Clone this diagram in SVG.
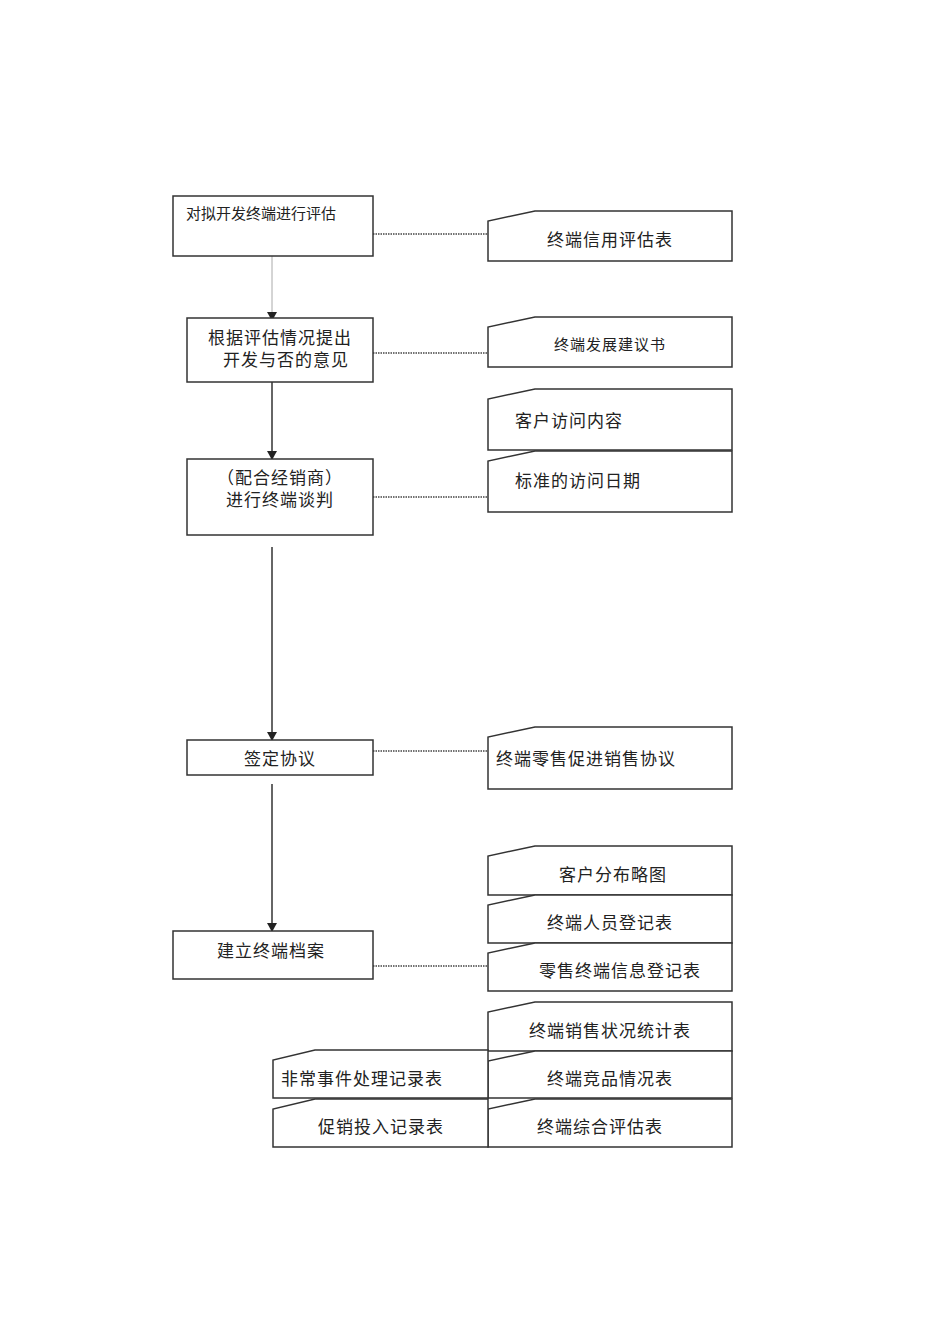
<svg xmlns="http://www.w3.org/2000/svg" width="950" height="1344" viewBox="0 0 950 1344">
<defs>
<style>
.b{fill:#fff;stroke:#333;stroke-width:1.5}
.t{font-family:"Liberation Sans","Noto Sans CJK SC",sans-serif;font-size:17px;fill:#222;letter-spacing:1px}
.d{stroke:#444;stroke-width:1.3;stroke-dasharray:1.5 1;fill:none}
.a{stroke:#333;stroke-width:1.5;fill:none;marker-end:url(#ar)}
</style>
<marker id="ar" markerWidth="10" markerHeight="10" refX="8" refY="5" orient="auto" markerUnits="userSpaceOnUse"><path d="M0,0 L9,5 L0,10 Z" fill="#222"/></marker>
</defs>
<rect width="950" height="1344" fill="#fff"/>
<g id="connectors">
<line x1="272" y1="256" x2="272" y2="320" class="a" style="stroke:#aaa;stroke-width:1"/>
<line x1="272" y1="382" x2="272" y2="459" class="a"/>
<line x1="272" y1="547" x2="272" y2="740" class="a"/>
<line x1="272" y1="784" x2="272" y2="931" class="a"/>
<line x1="373" y1="234" x2="502" y2="234" class="d"/>
<line x1="373" y1="353" x2="515" y2="353" class="d"/>
<line x1="373" y1="497" x2="502" y2="497" class="d"/>
<line x1="373" y1="751" x2="505" y2="751" class="d"/>
<line x1="373" y1="966" x2="488" y2="966" class="d"/>
</g>
<g id="n1"><rect x="173" y="196" width="200" height="60" class="b"/><text x="186" y="219" class="t" style="font-size:15px;letter-spacing:0">对拟开发终端进行评估</text></g>
<g id="n2"><rect x="187" y="318" width="186" height="64" class="b"/><text x="280" y="344" class="t" text-anchor="middle">根据评估情况提出</text><text x="286" y="366" class="t" text-anchor="middle">开发与否的意见</text></g>
<g id="n3"><rect x="187" y="459" width="186" height="76" class="b"/><text x="280" y="484" class="t" text-anchor="middle">（配合经销商）</text><text x="280" y="506" class="t" text-anchor="middle">进行终端谈判</text></g>
<g id="n4"><rect x="187" y="740" width="186" height="35" class="b"/><text x="280" y="765" class="t" text-anchor="middle">签定协议</text></g>
<g id="n5"><rect x="173" y="931" width="200" height="48" class="b"/><text x="217" y="957" class="t">建立终端档案</text></g>
<g id="c1"><path d="M488,261 L488,221 L535,211 L732,211 L732,261 Z" class="b"/><text x="610" y="246" class="t" text-anchor="middle">终端信用评估表</text></g>
<g id="c2"><path d="M488,367 L488,327 L535,317 L732,317 L732,367 Z" class="b"/><text x="610" y="350" class="t" text-anchor="middle" style="font-size:15px">终端发展建议书</text></g>
<g id="c3"><path d="M488,450 L488,399 L535,389 L732,389 L732,450 Z" class="b"/><text x="515" y="427" class="t">客户访问内容</text></g>
<g id="c4"><path d="M488,512 L488,461 L535,451 L732,451 L732,512 Z" class="b"/><text x="515" y="487" class="t">标准的访问日期</text></g>
<g id="c5"><path d="M488,789 L488,737 L535,727 L732,727 L732,789 Z" class="b"/><text x="496" y="765" class="t">终端零售促进销售协议</text></g>
<g id="c6"><path d="M488,895 L488,856 L535,846 L732,846 L732,895 Z" class="b"/><text x="613" y="881" class="t" text-anchor="middle">客户分布略图</text></g>
<g id="c7"><path d="M488,943 L488,905 L535,895 L732,895 L732,943 Z" class="b"/><text x="610" y="929" class="t" text-anchor="middle">终端人员登记表</text></g>
<g id="c8"><path d="M488,991 L488,953 L535,943 L732,943 L732,991 Z" class="b"/><text x="620" y="977" class="t" text-anchor="middle">零售终端信息登记表</text></g>
<g id="c9"><path d="M488,1051 L488,1012 L535,1002 L732,1002 L732,1051 Z" class="b"/><text x="610" y="1037" class="t" text-anchor="middle">终端销售状况统计表</text></g>
<g id="c10"><path d="M488,1098 L488,1061 L535,1051 L732,1051 L732,1098 Z" class="b"/><text x="610" y="1085" class="t" text-anchor="middle">终端竞品情况表</text></g>
<g id="c11"><path d="M488,1147 L488,1109 L535,1099 L732,1099 L732,1147 Z" class="b"/><text x="600" y="1133" class="t" text-anchor="middle">终端综合评估表</text></g>
<g id="c12"><path d="M273,1098 L273,1060 L315,1050 L488,1050 L488,1098 Z" class="b"/><text x="281" y="1085" class="t">非常事件处理记录表</text></g>
<g id="c13"><path d="M273,1147 L273,1109 L315,1099 L488,1099 L488,1147 Z" class="b"/><text x="381" y="1133" class="t" text-anchor="middle">促销投入记录表</text></g>
</svg>
